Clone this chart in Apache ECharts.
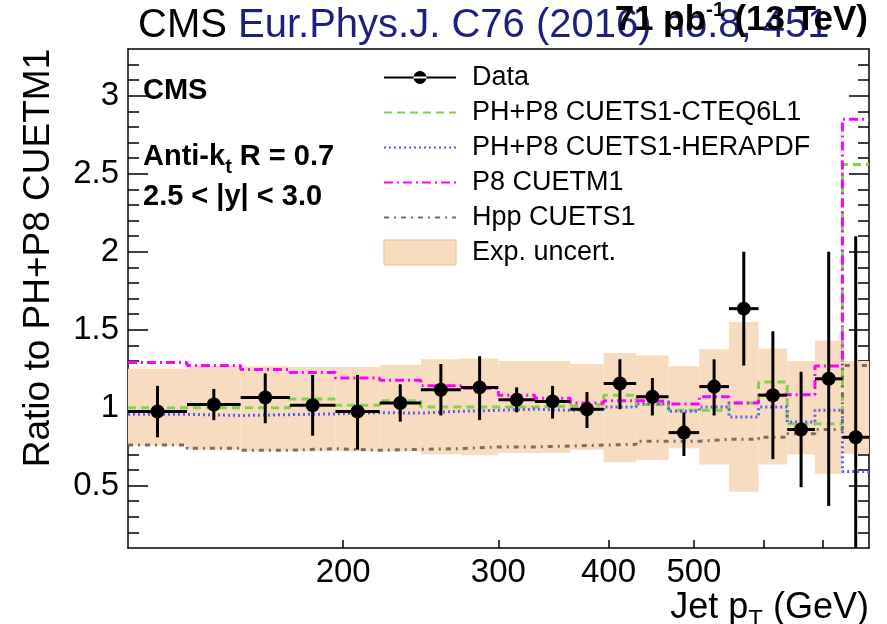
<!DOCTYPE html>
<html><head><meta charset="utf-8">
<script src="https://cdn.jsdelivr.net/npm/echarts@6/dist/echarts.min.js"></script>
<style>html,body{margin:0;padding:0;background:#fff}#c{width:887px;height:624px}</style>
</head><body><div id="c"></div>
<script>
// ---- data ----
const binEdges = [114,133,153,174,196,220,245,272,300,330,362,395,430,468,507,548,592,638,686,737,790];
const dataRatio   = [0.975,1.02,1.065,1.015,0.975,1.03,1.115,1.13,1.05,1.04,0.99,1.155,1.07,0.84,1.135,1.635,1.08,0.86,1.185,0.81];
const dataErrLow  = [0.81,0.92,0.90,0.82,0.73,0.91,0.95,0.92,0.97,0.93,0.87,0.99,0.95,0.69,0.95,1.27,0.67,0.49,0.37,0.0];
const dataErrHigh = [1.14,1.12,1.22,1.21,1.21,1.15,1.28,1.33,1.13,1.14,1.10,1.31,1.19,0.97,1.31,2.00,1.49,1.23,2.00,2.10];
const bandHigh = [1.25,1.27,1.265,1.26,1.26,1.275,1.31,1.315,1.30,1.30,1.28,1.35,1.335,1.265,1.375,1.55,1.38,1.30,1.43,1.30];
const bandLow  = [0.755,0.73,0.72,0.72,0.72,0.72,0.70,0.695,0.71,0.71,0.73,0.65,0.665,0.74,0.635,0.46,0.635,0.70,0.575,0.705];
const cteq   = [1.0,1.0,1.0,1.055,1.015,1.045,1.005,1.005,1.005,1.01,1.02,1.08,1.02,0.983,0.983,1.03,1.165,0.897,0.895,2.56];
const herapdf= [0.957,0.95,0.955,0.96,0.968,0.965,0.977,0.983,0.99,0.983,0.99,1.005,1.025,0.977,1.005,0.94,1.005,0.908,0.983,0.59];
const cuetm1 = [1.29,1.27,1.245,1.225,1.19,1.175,1.14,1.125,1.08,1.06,1.03,1.045,1.04,1.023,1.07,1.03,1.083,1.083,1.267,2.85];
const hpp    = [0.76,0.74,0.727,0.737,0.727,0.733,0.737,0.748,0.748,0.754,0.76,0.765,0.785,0.785,0.797,0.797,0.81,0.833,0.86,1.27];
const xTicks = [200,300,400,500,600,700];
const xTickLabels = [200,300,400,500];
const yTickLabels = [0.5,1,1.5,2,2.5,3];
const yMinorTicks = [0.2,0.3,0.4,0.5,0.6,0.7,0.8,0.9,1.0,1.1,1.2,1.3,1.4,1.5,1.6,1.7,1.8,1.9,2.0,2.1,2.2,2.3,2.4,2.5,2.6,2.7,2.8,2.9,3.0,3.1,3.2];

const FONT = '"Liberation Sans", Arial, Helvetica, sans-serif';
const cv = document.createElement('canvas').getContext('2d');
function tw(t, f) { cv.font = f; return cv.measureText(t).width; }

function stepData(vals) {
  return binEdges.map((e, i) => [e, vals[Math.min(i, vals.length - 1)]]);
}

const axLine = {show: true, onZero: false, lineStyle: {color: '#000', width: 1.5}};
function yAx(pos, major) {
  return {
    type: 'value', min: 0.1, max: 3.3, position: pos,
    axisLine: major ? axLine : {show: false},
    axisTick: {show: true, inside: true, length: major ? 20 : 11,
      customValues: major ? yTickLabels : yMinorTicks, lineStyle: {color: '#000', width: 1.5}},
    axisLabel: (major && pos === 'left') ? {show: true, customValues: yTickLabels, fontSize: 33, color: '#000',
      fontFamily: FONT, margin: 9, formatter: v => String(v)} : {show: false},
    splitLine: {show: false}, minorTick: {show: false}
  };
}

const lineSeries = (name, vals, color, dash) => ({
  type: 'line', name, data: stepData(vals), step: 'end', symbol: 'none',
  xAxisIndex: 0, yAxisIndex: 0, clip: true, z: 3,
  lineStyle: {color, width: 3, type: dash}, itemStyle: {color}
});

// text elements
const g = [];
g.push({type: 'text', x: 138, y: 26, style: {text: '{a|CMS }{b|Eur.Phys.J. C76 (2016) no.8, 451}', verticalAlign: 'middle',
  rich: {a: {fill: '#000', fontSize: 40, fontFamily: FONT}, b: {fill: '#1e1e80', fontSize: 40, fontFamily: FONT}}}});
// lumi
const lf = 'bold 35px ' + FONT, ls = 'bold 21px ' + FONT;
const lRight = 868;
const wL3 = tw(' (13 TeV)', lf), wL2 = tw('-1', ls), wL1 = tw('71 pb', lf);
g.push({type: 'text', x: lRight - wL3 - wL2 - wL1, y: 20, style: {text: '71 pb', font: lf, fill: '#000', verticalAlign: 'middle'}});
g.push({type: 'text', x: lRight - wL3 - wL2, y: 10, style: {text: '-1', font: ls, fill: '#000', verticalAlign: 'middle'}});
g.push({type: 'text', x: lRight - wL3, y: 20, style: {text: ' (13 TeV)', font: lf, fill: '#000', verticalAlign: 'middle'}});
// CMS labels inside
const bf = 'bold 29px ' + FONT, bs = 'bold 20px ' + FONT;
g.push({type: 'text', x: 143, y: 91, style: {text: 'CMS', font: bf, fill: '#000', verticalAlign: 'middle'}});
const wA = tw('Anti-k', bf), wt = tw('t', bs);
g.push({type: 'text', x: 143, y: 157, style: {text: 'Anti-k', font: bf, fill: '#000', verticalAlign: 'middle'}});
g.push({type: 'text', x: 143 + wA, y: 167, style: {text: 't', font: bs, fill: '#000', verticalAlign: 'middle'}});
g.push({type: 'text', x: 143 + wA + wt, y: 157, style: {text: ' R = 0.7', font: bf, fill: '#000', verticalAlign: 'middle'}});
g.push({type: 'text', x: 143, y: 197, style: {text: '2.5 < |y| < 3.0', font: bf, fill: '#000', verticalAlign: 'middle'}});
// y title
g.push({type: 'text', x: 38.5, y: 258, rotation: Math.PI / 2, style: {text: 'Ratio to PH+P8 CUETM1', font: '37px ' + FONT,
  fill: '#000', align: 'center', verticalAlign: 'middle'}});
// x title
const xf = '36px ' + FONT, xs = '24px ' + FONT;
const wX3 = tw(' (GeV)', xf), wX2 = tw('T', xs), wX1 = tw('Jet p', xf);
const xR = 869, xY = 608;
g.push({type: 'text', x: xR - wX3 - wX2 - wX1, y: xY, style: {text: 'Jet p', font: xf, fill: '#000', verticalAlign: 'middle'}});
g.push({type: 'text', x: xR - wX3 - wX2, y: xY + 12, style: {text: 'T', font: xs, fill: '#000', verticalAlign: 'middle'}});
g.push({type: 'text', x: xR - wX3, y: xY, style: {text: ' (GeV)', font: xf, fill: '#000', verticalAlign: 'middle'}});

const hideDot = {opacity: 0};
const option = {
  animation: false,
  backgroundColor: '#fff',
  grid: {left: 128, right: 18, top: 49, bottom: 76, outerBoundsMode: 'none', containLabel: false},
  xAxis: [
    {type: 'log', logBase: 10, min: 114, max: 790, position: 'bottom', axisLine: axLine,
     axisTick: {show: true, inside: true, length: 8, customValues: xTicks, lineStyle: {color: '#000', width: 1.5}},
     axisLabel: {show: true, customValues: xTickLabels, fontSize: 33, color: '#000', fontFamily: FONT, margin: 8},
     splitLine: {show: false}, minorTick: {show: false}},
    {type: 'log', logBase: 10, min: 114, max: 790, position: 'top', axisLine: axLine,
     axisTick: {show: false}, axisLabel: {show: false}, splitLine: {show: false}}
  ],
  yAxis: [yAx('left', true), yAx('left', false), yAx('right', true), yAx('right', false)],
  legend: {
    orient: 'vertical', left: 383, top: 64, padding: 0, itemWidth: 72, itemHeight: 25, itemGap: 8,
    selectedMode: false,
    textStyle: {fontSize: 27, color: '#000', fontFamily: FONT, padding: [0, 0, 0, 11]},
    data: [
      {name: 'Data', icon: 'path://M0,5.5L72,5.5L72,7.5L0,7.5Z M29.5,6.5A6.5,6.5 0 1 0 42.5,6.5A6.5,6.5 0 1 0 29.5,6.5Z', itemStyle: {color: '#000'}},
      {name: 'PH+P8 CUETS1-CTEQ6L1', itemStyle: hideDot},
      {name: 'PH+P8 CUETS1-HERAPDF', itemStyle: hideDot},
      {name: 'P8 CUETM1', itemStyle: hideDot},
      {name: 'Hpp CUETS1', itemStyle: hideDot},
      {name: 'Exp. uncert.', icon: 'rect', itemStyle: {color: '#f7dcc0', borderColor: '#f2bd85', borderWidth: 1}}
    ]
  },
  graphic: g,
  series: [
    {
      type: 'custom', name: 'Exp. uncert.', xAxisIndex: 0, yAxisIndex: 0, clip: true, z: 1,
      itemStyle: {color: '#f7dcc0'},
      data: bandLow.map((lo, i) => [binEdges[i], binEdges[i + 1], lo, bandHigh[i]]),
      encode: {x: [0, 1], y: [2, 3]},
      renderItem: (params, api) => {
        const p0 = api.coord([api.value(0), api.value(3)]);
        const p1 = api.coord([api.value(1), api.value(2)]);
        return {type: 'rect', shape: {x: p0[0], y: p0[1], width: p1[0] - p0[0], height: p1[1] - p0[1]},
          style: {fill: '#f7dcc0'}};
      }
    },
    lineSeries('PH+P8 CUETS1-CTEQ6L1', cteq, '#84d24a', [8, 5]),
    lineSeries('PH+P8 CUETS1-HERAPDF', herapdf, '#5a5af5', [2, 3]),
    lineSeries('P8 CUETM1', cuetm1, '#ff00ff', [9, 4, 2, 4]),
    lineSeries('Hpp CUETS1', hpp, '#806a5a', [5, 5, 2, 5]),
    {
      type: 'custom', name: 'Data', xAxisIndex: 0, yAxisIndex: 0, clip: true, z: 5,
      itemStyle: {color: '#000'},
      data: dataRatio.map((v, i) => [binEdges[i], binEdges[i + 1], v, dataErrLow[i], dataErrHigh[i]]),
      encode: {x: [0, 1], y: [2, 3, 4]},
      renderItem: (params, api) => {
        const lo = api.value(0), hi = api.value(1), v = api.value(2), el = api.value(3), eh = api.value(4);
        const c = Math.sqrt(lo * hi);
        const a = api.coord([lo, v]), b = api.coord([hi, v]);
        const t = api.coord([c, eh]), d = api.coord([c, el]), m = api.coord([c, v]);
        return {type: 'group', children: [
          {type: 'line', shape: {x1: a[0], y1: a[1], x2: b[0], y2: b[1]}, style: {stroke: '#000', lineWidth: 3}},
          {type: 'line', shape: {x1: t[0], y1: t[1], x2: d[0], y2: d[1]}, style: {stroke: '#000', lineWidth: 3}},
          {type: 'circle', shape: {cx: m[0], cy: m[1], r: 7}, style: {fill: '#000'}}
        ]};
      }
    }
  ]
};
const chart = echarts.init(document.getElementById('c'), null, {renderer: 'canvas'});
chart.setOption(option);
</script>
</body></html>
